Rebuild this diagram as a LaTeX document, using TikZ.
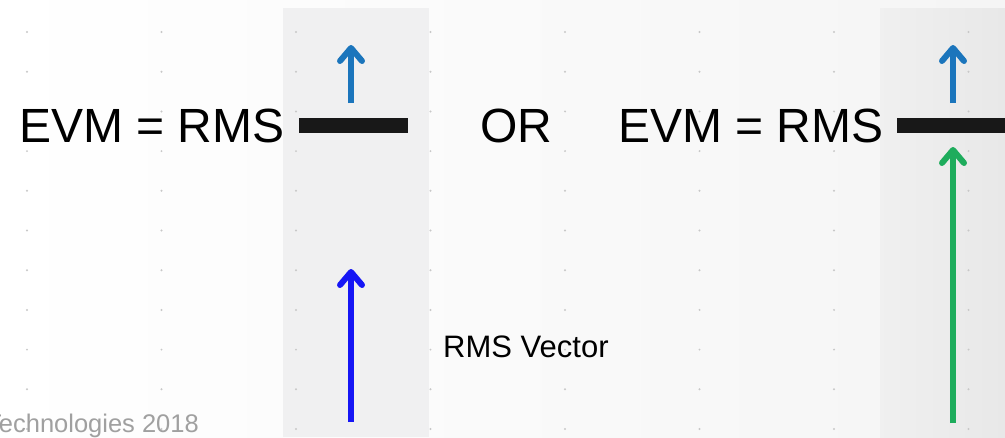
\documentclass[tikz,border=0pt]{standalone}
\usepackage{fontspec}
\setmainfont{Liberation Sans}
\usetikzlibrary{arrows.meta}

\definecolor{vecblue}{RGB}{27,117,188}
\definecolor{rmsblue}{RGB}{22,22,245}
\definecolor{errgreen}{RGB}{30,172,92}
\definecolor{panelgray}{RGB}{240,240,241}
\definecolor{dotgray}{RGB}{200,200,200}
\definecolor{notegray}{RGB}{160,160,160}
\definecolor{barblack}{RGB}{24,24,24}

\tikzset{
  vec/.style={line width=6pt,-{Straight Barb[length=13pt,width=22pt,round]}},
  eqtext/.style={inner sep=0pt,font=\fontsize{48}{50}\selectfont},
  labeltext/.style={inner sep=0pt,font=\fontsize{31}{34}\selectfont},
  bar/.style={fill=barblack,inner sep=0pt,minimum width=109pt,minimum height=15pt}
}

\begin{document}
\begin{tikzpicture}[x=1pt,y=-1pt]
\useasboundingbox (0,0) rectangle (1005,437);
\clip (0,0) rectangle (1005,437);

% Background and panels
\shade[left color=white,right color=black!4] (0,0) rectangle (1005,437);
\fill[panelgray] (283,8) rectangle (429,437);
\shade[left color=black!6,right color=black!9] (880,8) rectangle (1005,437);

% Dot grid
\foreach \i in {0,...,7}
  \foreach \j in {0,...,10}
    \fill[dotgray] (27+134.5*\i,32+39.7*\j) circle (1.1);

% Nodes (equations)
\node[eqtext,anchor=base west] (evmA) at (19,142) {EVM = RMS};
\node[eqtext,anchor=base west] (or) at (480,142) {OR};
\node[eqtext,anchor=base west] (evmB) at (618,142) {EVM = RMS};
\node[bar] (barA) at (353.5,125.5) {};
\node[bar] (barB) at (951.5,125.5) {};
\node[labeltext,anchor=base west] (rmsvec) at (443,357) {RMS Vector};
\node[inner sep=0pt,anchor=base east,text=notegray,font=\fontsize{25.5}{27}\selectfont]
  (note) at (199,432) {Technologies 2018};

% Edges (vectors)
\coordinate (aTop0) at (351,103);
\coordinate (aTop1) at (351,45);
\coordinate (aLow0) at (351,422);
\coordinate (aLow1) at (351,269);
\coordinate (bTop0) at (953,103);
\coordinate (bTop1) at (953,45);
\coordinate (bLow0) at (953,423);
\coordinate (bLow1) at (953,147);
\draw[vec,vecblue] (aTop0) -- (aTop1);
\draw[vec,rmsblue] (aLow0) -- (aLow1);
\draw[vec,vecblue] (bTop0) -- (bTop1);
\draw[vec,errgreen] (bLow0) -- (bLow1);
\end{tikzpicture}
\end{document}
